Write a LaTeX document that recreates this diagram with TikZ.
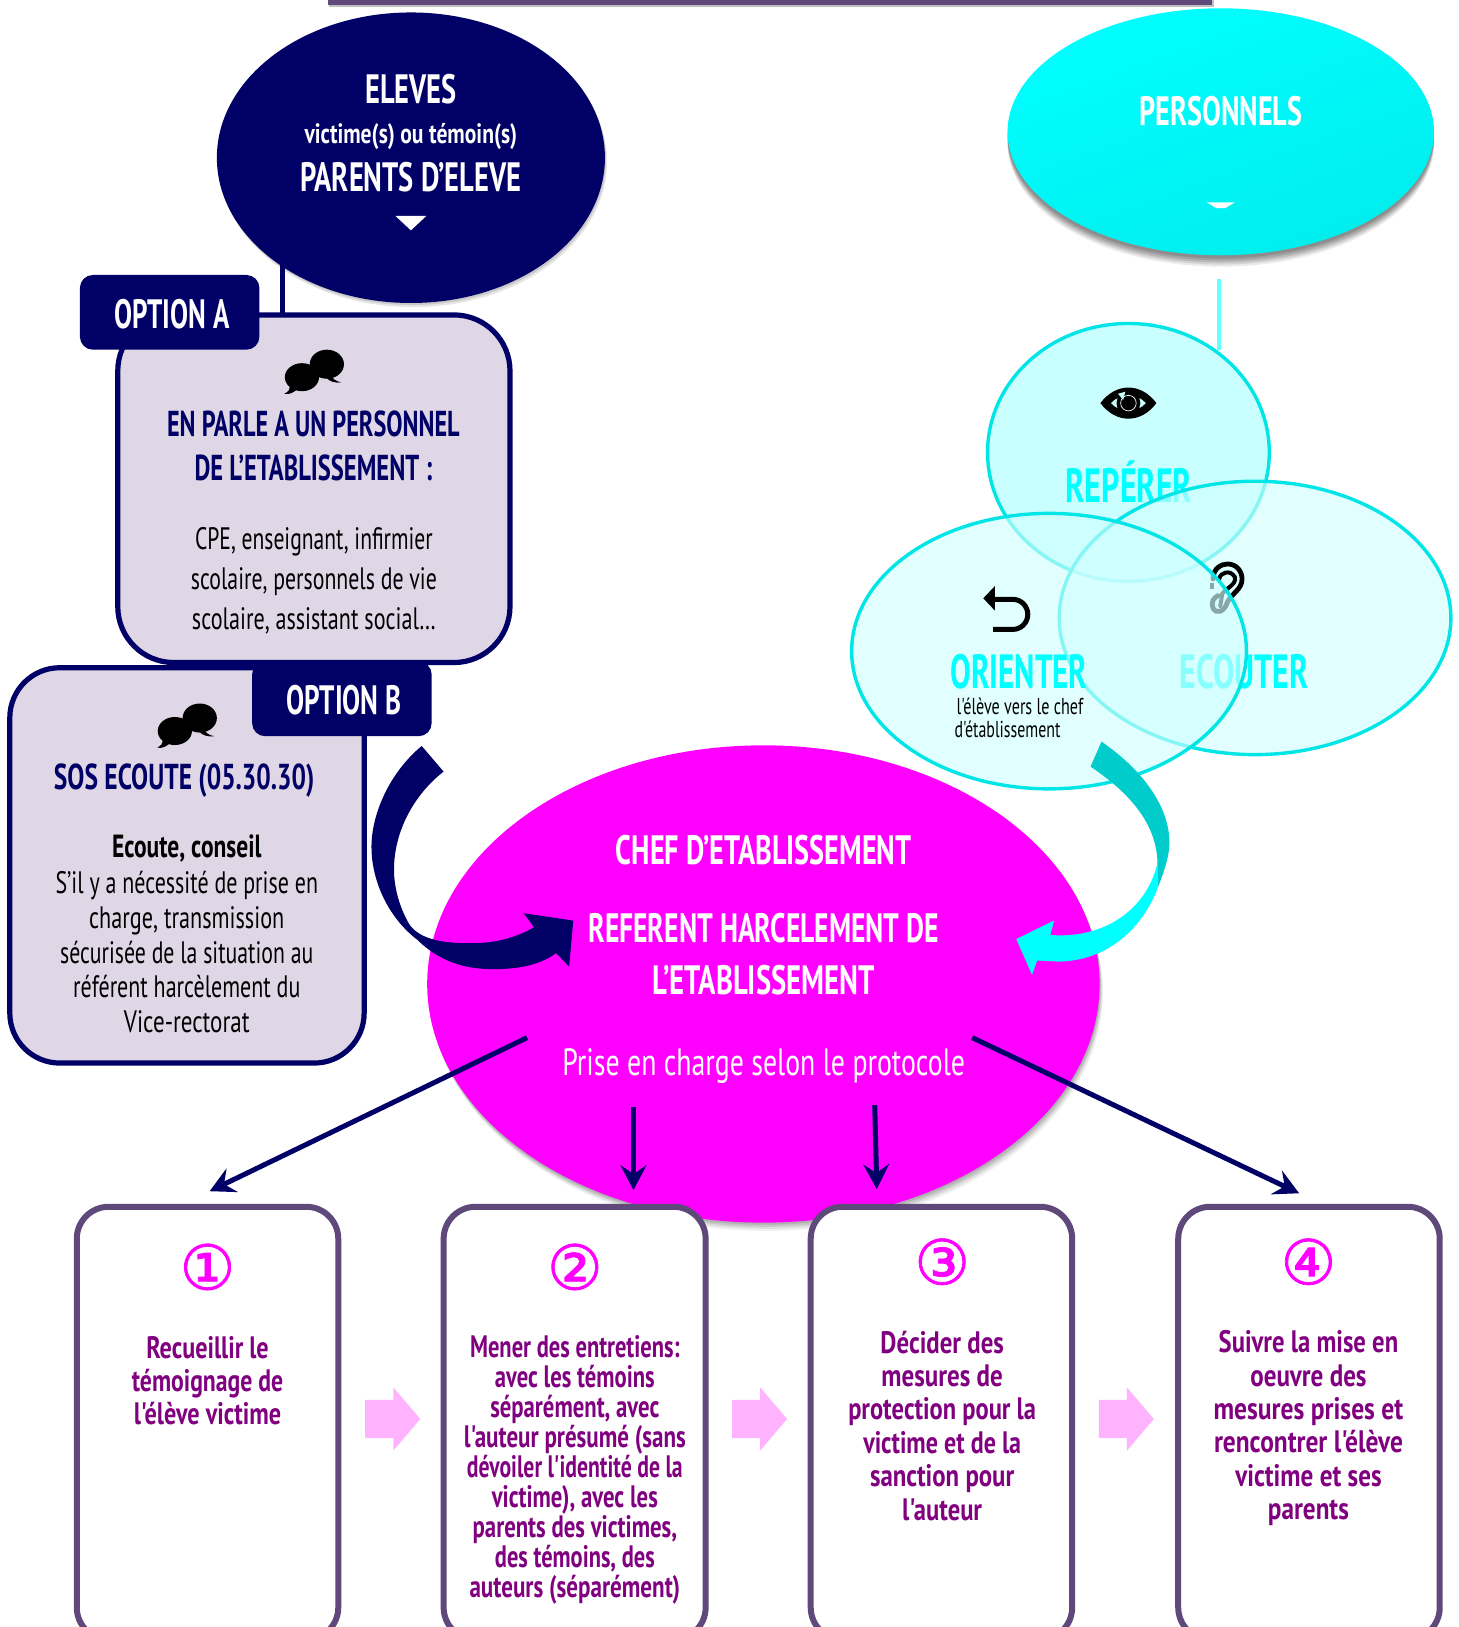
\documentclass[tikz,border=0pt]{standalone}
\usepackage{fontspec}
\usepackage{graphicx}
\usetikzlibrary{shapes.geometric,arrows.meta}
\newfontfamily\agency{PT Sans}
\newfontfamily\dejavu[FakeBold=1.2]{DejaVu Sans}
\newdimen\unitpx \unitpx=0.51885pt
\newcommand\fitw[2]{\resizebox{#1\unitpx}{\height}{#2}}
\newcommand\fsz[2]{\fontsize{#1}{#2}\selectfont\lineskiplimit=-20pt\relax}
\definecolor{navy}{HTML}{000066}
\definecolor{lilac}{HTML}{DFD6E6}
\definecolor{plum}{HTML}{5F497A}
\definecolor{purp}{HTML}{800080}
\definecolor{mag}{HTML}{FF00FF}
\definecolor{cyanx}{HTML}{00FFFF}
\definecolor{ringc}{HTML}{00E5E5}
\definecolor{tealx}{HTML}{00CCCC}
\definecolor{pinkx}{HTML}{FFB3FF}
\tikzset{
  every node/.style={inner sep=0pt,outer sep=0pt},
  oval/.style args={#1/#2}{ellipse,minimum width=#1*\unitpx,minimum height=#2*\unitpx},
  optbox/.style={rectangle,fill=navy,rounded corners=6.5pt,minimum width=173*\unitpx,minimum height=72*\unitpx},
  talkbox/.style args={#1/#2}{rectangle,draw=navy,fill=lilac,line width=2.6pt,rounded corners=26pt,minimum width=#1*\unitpx,minimum height=#2*\unitpx},
  stepbox/.style args={#1/#2}{rectangle,draw=plum,fill=white,line width=3pt,rounded corners=16pt,minimum width=#1*\unitpx,minimum height=#2*\unitpx},
  hw/.style={font=\agency\bfseries\fsz{20.5}{22},text=white,align=center},
  bt/.style={font=\agency\bfseries\fsz{18}{21.8},text=navy,align=center},
  bodyt/.style={font=\agency\fsz{15.5}{20},text=black,align=center},
  bodyb/.style={font=\agency\fsz{15.5}{17.4},text=black,align=center},
  ringt/.style={font=\agency\bfseries\fsz{24}{24},text=cyanx},
  stept/.style={font=\agency\bfseries\fsz{15.5}{#1},text=purp,align=center},
  numt/.style={font=\dejavu\fontsize{31}{31}\selectfont,text=mag},
  toparrow/.style={draw=navy,line width=2.5pt,-{Stealth[length=12.5pt,width=13pt,inset=4.5pt]}},
  pinkarr/.style={fill=pinkx},
  bubbles/.pic={
    \fill[black] (-12,6) ellipse [x radius=16.5,y radius=13.5];
    \fill[black] (12,-6.5) ellipse [x radius=16.5,y radius=14];
    \fill[black] (-24,12) .. controls (-23,18) and (-25,20) .. (-29,22) .. controls (-24,23) and (-20,21) .. (-16,17) -- cycle;
    \fill[black] (16,3) .. controls (17,8) and (21,10) .. (26,11) .. controls (20,12) and (14,10) .. (11,6) -- cycle;
  }
}
\begin{document}
\begin{tikzpicture}[x=0.51885pt,y=-0.51885pt]
\useasboundingbox (0,0) rectangle (1406,1568);
\clip (0,0) rectangle (1406,1568);
\fill[white] (0,0) rectangle (1406,1568);
% top bar
\fill[black,opacity=.25] (317,0) rectangle (1170,7);
\fill[plum] (316,0) rectangle (1168,4.5);

% ----- Personnels
\foreach \k/\o in {3/.12,5/.12,7/.12,9/.10,11/.08}{
  \fill[black,opacity=\o] (1176.5,127+\k) ellipse [x radius=205.5,y radius=119];
}
\node[oval=411/238,left color=cyanx,right color=cyanx!93!black,shading angle=20] (pers) at (1176.5,127) {};
\node[hw] (perst) at (1176.5,107) {\fitw{157}{PERSONNELS}};
\coordinate (persdown) at (1175,269);
\coordinate (persring) at (1175,337);
\fill[white] (1163,195) -- (1190,195) -- (1181,200.5) -- (1172,200.5) -- cycle;
\draw[cyanx!60!white,line width=2.1pt] (persdown) -- (persring);

% ----- Venn rings
\node[oval=271.5/248.5,draw=ringc,line width=1.7pt,fill=cyanx!21!white] (rep) at (1087.5,436) {};
\node[ringt] (rept) at (1088,464) {\fitw{122}{REPÉRER}};
% eye
\begin{scope}[shift={(1087.5,388.5)}]
  \fill[black,even odd rule] (-27,0) .. controls (-12,-20) and (12,-20) .. (27,0) .. controls (12,20) and (-12,20) .. (-27,0) -- cycle
     (-17,0) .. controls (-8,-10) and (8,-10) .. (17,0) .. controls (8,10) and (-8,10) .. (-17,0) -- cycle;
  \fill[black] (0,0) circle [radius=11.5];
  \draw[white,line width=.35pt] (0,0) circle [radius=7.5];
  \fill[cyanx!21!white] (-10,-9) -- (-3,-11) -- (-5,-3) -- cycle;
\end{scope}

\node[oval=377.5/263.5,draw=ringc,line width=1.7pt,fill=cyanx!18!white,fill opacity=.65] (eco) at (1209.5,595.5) {};
\node[ringt] (ecot) at (1199,647) {\fitw{124}{ECOUTER}};
% ear
\draw[black,line width=2.4pt,line cap=round] (1169,558) .. controls (1169,548) and (1177,543.5) .. (1183,543.5) .. controls (1192,543.5) and (1197,551) .. (1197,558) .. controls (1197,568) and (1187,572) .. (1183,580) .. controls (1180,590) and (1172,592) .. (1169,586) .. controls (1167,581) and (1169,576) .. (1174,574);
\draw[black,line width=2pt,line cap=round] (1175,558) .. controls (1176,551) and (1186,549) .. (1190,556) .. controls (1192,563) and (1183,566) .. (1178,572) -- (1176,584);
\draw[black,line width=1.6pt] (1168,562) -- (1168,568);

\node[oval=380.5/265.5,draw=ringc,line width=1.7pt,fill=cyanx!18!white,fill opacity=.65] (ori) at (1011,627.5) {};
\node[ringt] (orit) at (982,647) {\fitw{132}{ORIENTER}};
\node[font=\agency\fsz{11.5}{11.4},text=black,align=left,anchor=west] (orisub) at (920,692) {\hspace*{2\unitpx}\fitw{122}{l'élève vers le chef}\\\fitw{102}{d'établissement}};
% back arrow
\fill[black] (947.6,576.6) -- (958.9,564.7) -- (958.9,588.5) -- cycle;
\draw[black,line width=2.5pt] (958,577.6) -- (976,577.6) arc [start angle=-90,end angle=90,radius=14.5] -- (957,606.6);

% ----- Chef
\foreach \k/\o in {2/.10,4/.10,6/.08,8/.06}{
  \fill[black,opacity=\o] (735.7+.4*\k,948.3+\k) ellipse [x radius=324,y radius=230];
}
\node[oval=648/460,fill=mag] (chef) at (735.7,948.3) {};
\node[hw] (chefa) at (736,819.5) {\fitw{285}{CHEF D’ETABLISSEMENT}};
\node[hw] (chefb) at (736,894) {\fitw{338}{REFERENT HARCELEMENT DE}};
\node[hw] (chefc) at (736,944.5) {\fitw{214}{L’ETABLISSEMENT}};
\node[font=\agency\fsz{19}{20},text=white] (chefd) at (736,1027) {\fitw{388}{Prise en charge selon le protocole}};

% ----- Eleves
\foreach \k/\o in {2/.12,4/.10}{
  \fill[black,opacity=\o] (396+.5*\k,152+\k) ellipse [x radius=187,y radius=140];
}
\coordinate (eldown) at (272,250);
\coordinate (elbox) at (272,304);
\draw[navy,line width=2.4pt] (eldown) -- (elbox);
\node[oval=374/280,fill=navy] (eleves) at (396,152) {};
\node[hw] (elva) at (396,86) {\fitw{88}{ELEVES}};
\node[font=\agency\bfseries\fsz{14}{16},text=white] (elvb) at (396,132) {\fitw{205}{victime(s) ou témoin(s)}};
\node[hw] (elvc) at (396,171) {\fitw{213}{PARENTS D’ELEVE}};
\fill[white] (381,208) -- (411,208) -- (396,222) -- cycle;

% ----- Option B box
\node[talkbox=341.5/381,rounded corners=25pt] (boxb) at (180.2,834) {};
\pic at (180.5,698.5) {bubbles};
\node[bt] (boxbt) at (177.5,752) {\fitw{251}{SOS ECOUTE (05.30.30)}};
\node[font=\agency\bfseries\fsz{16}{18},text=black] (boxbh) at (180,818) {\fitw{144}{Ecoute, conseil}};
\node[bodyb] (boxbb) at (180,917.5) {\fitw{253}{S’il y a nécessité de prise en}\\\fitw{188}{charge, transmission}\\\fitw{244}{sécurisée de la situation au}\\\fitw{219}{référent harcèlement du}\\\fitw{121}{Vice-rectorat}};

% ----- Option A box
\node[talkbox=378/335,rounded corners=28pt] (boxa) at (302.5,471) {};
\pic at (303,357.5) {bubbles};
\node[bt] (boxat) at (302,430) {\fitw{282}{EN PARLE A UN PERSONNEL}\\\fitw{229}{DE L’ETABLISSEMENT :}};
\node[bodyt] (boxab) at (302.5,560) {\fitw{229}{CPE, enseignant, infirmier}\\\fitw{237}{scolaire, personnels de vie}\\\fitw{235}{scolaire, assistant social…}};
\node[optbox] (opta) at (163.5,301) {};
\node[hw] (optat) at (165.5,303) {\fitw{111}{OPTION A}};
\node[optbox] (optb) at (329.5,673.5) {};
\node[hw] (optbt) at (331.5,675) {\fitw{111}{OPTION B}};

% ----- Curved arrows
\fill[navy] (406.4,718.9) .. controls (375,745) and (358,785) .. (358,816) .. controls (358,850) and (375,885) .. (402.3,905.8) .. controls (425,928) and (450,934) .. (475.4,934) .. controls (500,934) and (520,930) .. (535.9,918.6) -- (548.5,931.5) -- (552.5,887.2) -- (504.7,880.1) -- (514.7,893.6) .. controls (495,905) and (475,909) .. (452.7,909) .. controls (425,909) and (405,905) .. (394.8,891.3) .. controls (385,875) and (379.7,855) .. (379.7,838.3) .. controls (379.7,800) and (400,765) .. (427.5,743.6) -- cycle;
\fill[tealx] (1061.6,714.7) .. controls (1105,745) and (1127,780) .. (1127,812) .. controls (1127,825) and (1122,840) .. (1115.5,856) -- (1115.5,832) .. controls (1115,795) and (1090,765) .. (1051,738.8) -- cycle;
\fill[cyanx] (1116,830) -- (1115.5,856) .. controls (1105,885) and (1075,926) .. (1019.8,926.7) -- (999.6,925.7) -- (994.6,939.5) -- (979.4,905) -- (1016,887) -- (1012.2,901) .. controls (1060,905) and (1105,880) .. (1116,830) -- cycle;

% ----- Step boxes
\node[stepbox=252/417] (s1) at (200,1371.5) {};
\node[stepbox=252.5/417] (s2) at (553.8,1371.5) {};
\node[stepbox=252/417] (s3) at (907.3,1371.5) {};
\node[stepbox=252/417] (s4) at (1261.5,1371.5) {};

% ----- Straight arrows
\coordinate (c1) at (508,1000);  \coordinate (e1) at (202,1148);
\coordinate (c2) at (610.5,1067);  \coordinate (e2) at (610.5,1147);
\coordinate (c3) at (843,1065);  \coordinate (e3) at (845,1146);
\coordinate (c4) at (937,1000);  \coordinate (e4) at (1252,1150);
\draw[toparrow] (c1) -- (e1);
\draw[toparrow] (c2) -- (e2);
\draw[toparrow] (c3) -- (e3);
\draw[toparrow] (c4) -- (e4);

% ----- Step contents
\node[numt] (n1) at (200,1221) {①};
\node[numt] (n2) at (554,1221) {②};
\node[numt] (n3) at (908,1216) {③};
\node[numt] (n4) at (1261,1216) {④};
\node[stept=16.6] (t1) at (200,1330.5) {\fitw{118}{Recueillir le}\\\fitw{146}{témoignage de}\\\fitw{142}{l'élève victime}};
\node[stept=15] (t2) at (554,1417) {\fitw{202}{Mener des entretiens:}\\\fitw{154}{avec les témoins}\\\fitw{163}{séparément, avec}\\\fitw{214}{l'auteur présumé (sans}\\\fitw{208}{dévoiler l'identité de la}\\\fitw{160}{victime), avec les}\\\fitw{197}{parents des victimes,}\\\fitw{154}{des témoins, des}\\\fitw{203}{auteurs (séparément)}};
\node[stept=16.7] (t3) at (908,1374) {\fitw{119}{Décider des}\\\fitw{117}{mesures de}\\\fitw{181}{protection pour la}\\\fitw{152}{victime et de la}\\\fitw{139}{sanction pour}\\\fitw{77}{l'auteur}};
\node[stept=16.7] (t4) at (1261,1376.5) {\fitw{173}{Suivre la mise en}\\\fitw{112}{oeuvre des}\\\fitw{183}{mesures prises et}\\\fitw{182}{rencontrer l'élève}\\\fitw{141}{victime et ses}\\\fitw{78}{parents}};

% ----- Pink block arrows
\foreach \dx in {352,705.5,1059}{
  \fill[pinkarr,shift={(\dx,0)}] (0,1349) -- (27,1349) -- (27,1337) -- (53,1367.5) -- (27,1398) -- (27,1386) -- (0,1386) -- cycle;
}
\end{tikzpicture}
\end{document}
